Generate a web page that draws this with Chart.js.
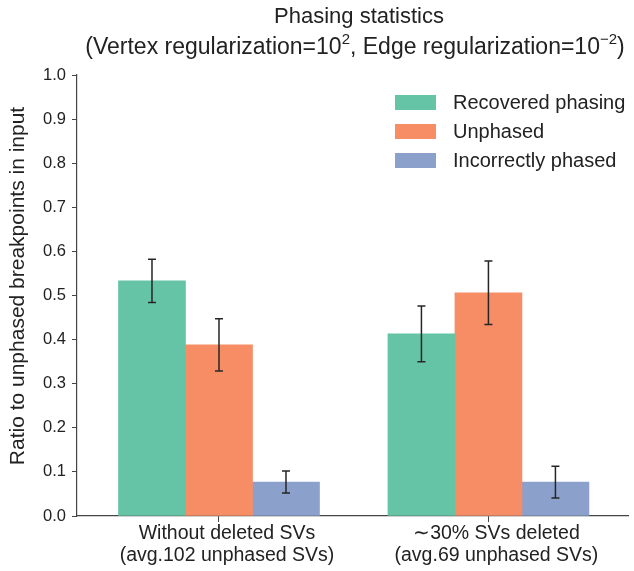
<!DOCTYPE html>
<html>
<head>
<meta charset="utf-8">
<script src="https://cdn.jsdelivr.net/npm/chart.js@4"></script>
<style>
  html, body { margin: 0; padding: 0; background: #fff; }
  #wrap { width: 634px; height: 571px; }
</style>
</head>
<body>
<div id="wrap"><canvas id="phaseChart"></canvas></div>
<script>
// data
const groups = [
  ['Without deleted SVs', '(avg.102 unphased SVs)'],
  ['\u223C30% SVs deleted', '(avg.69 unphased SVs)']
];
const seriesNames = ['Recovered phasing', 'Unphased', 'Incorrectly phased'];
const recovered = [0.533, 0.413];
const recoveredErr = [0.049, 0.063];
const unphased = [0.388, 0.506];
const unphasedErr = [0.059, 0.072];
const incorrect = [0.077, 0.077];
const incorrectErr = [0.025, 0.036];
const yTicks = [0, 0.1, 0.2, 0.3, 0.4, 0.5, 0.6, 0.7, 0.8, 0.9, 1.0];

const colors = ['#64c4a5', '#f68d64', '#8ba0cb'];
const FONT = '"Liberation Sans", Arial, sans-serif';
const TXT = '#222';

function toPoints(vals) { return vals.map((v, i) => ({ x: i, y: v })); }

// error bars on top of each bar
const errorBars = {
  id: 'errorBars',
  afterDatasetsDraw(chart) {
    const ctx = chart.ctx;
    const y = chart.scales.y;
    ctx.save();
    ctx.strokeStyle = '#262626';
    ctx.lineWidth = 1.5;
    chart.data.datasets.forEach((ds, di) => {
      const meta = chart.getDatasetMeta(di);
      meta.data.forEach((bar, i) => {
        const v = ds.data[i].y, e = ds.errors[i];
        const top = y.getPixelForValue(v + e), bot = y.getPixelForValue(v - e);
        ctx.beginPath();
        ctx.moveTo(bar.x, top); ctx.lineTo(bar.x, bot);
        ctx.moveTo(bar.x - 4, top); ctx.lineTo(bar.x + 4, top);
        ctx.moveTo(bar.x - 4, bot); ctx.lineTo(bar.x + 4, bot);
        ctx.stroke();
      });
    });
    ctx.restore();
  }
};

// title with superscripts, y axis label, legend box
const decorations = {
  id: 'decorations',
  afterDraw(chart) {
    const ctx = chart.ctx;
    ctx.save();
    ctx.fillStyle = TXT;
    ctx.textBaseline = 'alphabetic';
    ctx.font = '22px ' + FONT;
    ctx.textAlign = 'center';
    ctx.fillText('Phasing statistics', 359, 23);

    const parts = [
      ['(Vertex regularization=10', false],
      ['2', true],
      [', Edge regularization=10', false],
      ['\u22122', true],
      [')', false]
    ];
    const fontFor = sup => (sup ? '15px ' : '23px ') + FONT;
    let total = 0;
    parts.forEach(([t, sup]) => { ctx.font = fontFor(sup); total += ctx.measureText(t).width; });
    let x = 355 - total / 2;
    ctx.textAlign = 'left';
    parts.forEach(([t, sup]) => {
      ctx.font = fontFor(sup);
      ctx.fillText(t, x, sup ? 44 : 54);
      x += ctx.measureText(t).width;
    });

    // y axis title
    ctx.save();
    ctx.translate(18, 286);
    ctx.rotate(-Math.PI / 2);
    ctx.font = '21px ' + FONT;
    ctx.textAlign = 'center';
    ctx.textBaseline = 'middle';
    ctx.fillText('Ratio to unphased breakpoints in input', 0, 0);
    ctx.restore();

    // legend
    ctx.font = '20px ' + FONT;
    ctx.textBaseline = 'middle';
    ctx.textAlign = 'left';
    seriesNames.forEach((name, i) => {
      const cy = 103 + i * 29;
      ctx.fillStyle = colors[i];
      ctx.fillRect(395, cy - 8, 41, 15);
      ctx.fillStyle = TXT;
      ctx.fillText(name, 453, cy);
    });
    ctx.restore();
  }
};

new Chart(document.getElementById('phaseChart'), {
  type: 'bar',
  data: {
    datasets: [
      { label: seriesNames[0], data: toPoints(recovered), errors: recoveredErr, backgroundColor: colors[0] },
      { label: seriesNames[1], data: toPoints(unphased), errors: unphasedErr, backgroundColor: colors[1] },
      { label: seriesNames[2], data: toPoints(incorrect), errors: incorrectErr, backgroundColor: colors[2] }
    ]
  },
  options: {
    responsive: true,
    maintainAspectRatio: false,
    animation: false,
    barThickness: 67,
    layout: { padding: { top: 75, right: 6, left: 0, bottom: 0 } },
    plugins: { legend: { display: false }, tooltip: { enabled: false } },
    scales: {
      x: {
        type: 'linear',
        min: -0.527,
        max: 1.518,
        offset: false,
        afterBuildTicks: s => { s.ticks = [{ value: 0 }, { value: 1 }]; },
        afterFit: s => { s.height = 55; },
        grid: { offset: false, drawOnChartArea: false, drawTicks: true, tickLength: 6, color: '#444' },
        border: { color: '#444', width: 1.2 },
        ticks: {
          autoSkip: false, maxRotation: 0, padding: 1, labelOffset: 8,
          color: TXT, font: { family: FONT, size: 19.5, lineHeight: 1.13 },
          callback: v => groups[v]
        }
      },
      y: {
        min: 0,
        max: 1,
        afterBuildTicks: s => { s.ticks = yTicks.map(v => ({ value: v })); },
        afterFit: s => { s.width = 77; },
        grid: { drawOnChartArea: false, drawTicks: true, tickLength: 5, color: '#444' },
        border: { color: '#444', width: 1.2 },
        ticks: {
          padding: 6, color: TXT, font: { family: FONT, size: 16.5 },
          callback: v => v.toFixed(1)
        }
      }
    }
  },
  plugins: [errorBars, decorations]
});
</script>
</body>
</html>
